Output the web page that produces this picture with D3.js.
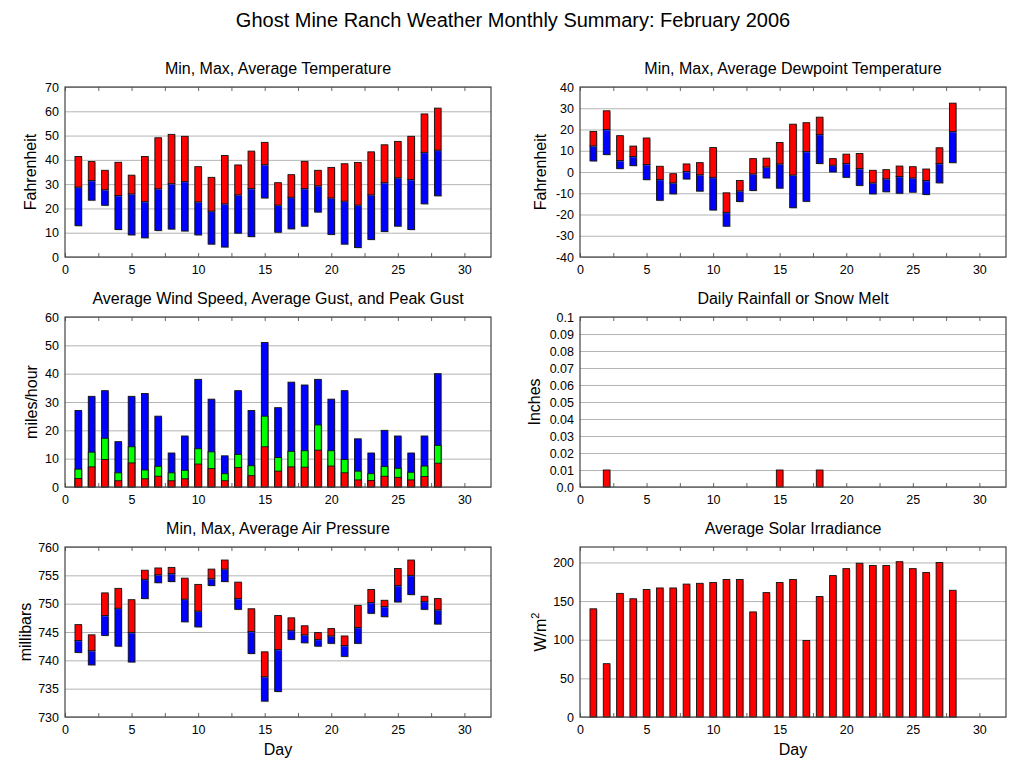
<!DOCTYPE html>
<html><head><meta charset="utf-8">
<script src="https://cdn.jsdelivr.net/npm/d3@7"></script>
<style>
body{margin:0;background:#fff;}
text{font-family:"Liberation Sans",Arial,Helvetica,sans-serif;fill:#000;}
</style>
</head><body>
<svg id="c" width="1027" height="772"></svg>
<script>
// ---------- DATA ----------
const days = d3.range(1, 29);
const xTicks = [0, 5, 10, 15, 20, 25, 30];

const tempMax = [41.4,39.3,35.7,39.0,33.7,41.4,49.1,50.5,49.7,37.2,32.8,41.8,37.9,43.6,47.2,30.6,33.9,39.4,35.7,36.9,38.4,38.9,43.3,46.2,47.6,49.7,58.9,61.3];
const tempAvg = [28.8,31.5,27.7,25.3,26.0,22.8,28.1,30.2,31.1,22.7,18.9,21.9,25.6,28.2,38.0,21.4,24.6,28.2,29.3,24.3,23.0,21.4,25.6,30.6,32.6,31.9,43.1,44.0];
const tempMin = [12.9,23.4,21.3,11.3,9.1,7.9,10.9,11.5,10.7,9.1,5.3,4.1,9.8,8.4,24.3,10.2,11.6,12.7,18.5,9.3,5.3,3.9,7.2,10.5,12.7,11.3,21.9,25.2];
const tempTicks = [0,10,20,30,40,50,60,70];

const dewMax = [19.1,28.8,17.1,12.2,16.0,2.7,-0.8,3.8,4.4,11.5,-9.8,-4.0,6.3,6.5,13.9,22.5,23.2,25.8,6.3,8.4,8.7,0.8,1.1,2.8,2.5,1.4,11.4,32.4];
const dewAvg = [12.3,20.0,5.4,7.3,3.5,-3.5,-5.1,0.2,-1.3,-2.5,-19.0,-8.9,-0.9,2.4,3.8,-1.4,9.6,17.7,3.2,4.0,1.6,-5.1,-3.2,-2.1,-2.8,-4.0,4.0,19.0];
const dewMin = [5.2,8.2,1.6,3.0,-3.6,-13.3,-10.3,-3.3,-9.0,-17.9,-25.5,-13.9,-8.7,-2.8,-7.6,-16.8,-13.8,4.0,0.0,-2.5,-6.3,-10.3,-9.3,-10.0,-9.5,-10.6,-5.1,4.4];
const dewTicks = [-40,-30,-20,-10,0,10,20,30,40];

const windAvg = [3.0,7.1,9.7,2.2,8.5,2.9,3.8,2.2,2.9,8.1,6.5,2.2,6.9,4.0,14.2,5.6,7.1,7.0,13.0,7.4,5.0,2.5,2.3,3.8,3.4,2.5,3.7,8.4];
const gustAvg = [6.3,12.3,17.2,5.0,14.2,6.0,7.3,5.0,5.9,13.5,12.4,4.7,11.5,7.5,25.0,10.4,12.6,12.8,21.9,12.8,9.7,5.6,4.7,7.2,6.6,5.2,7.4,14.7];
const gustPeak = [27,32,34,16,32,33,25,12,18,38,31,11,34,27,51,28,37,36,38,31,34,17,12,20,18,12,18,40];
const windTicks = [0,10,20,30,40,50,60];

const rain = [0,0.01,0,0,0,0,0,0,0,0,0,0,0,0,0.01,0,0,0.01,0,0,0,0,0,0,0,0,0,0];
const rainTicks = [0,0.01,0.02,0.03,0.04,0.05,0.06,0.07,0.08,0.09,0.1];
const rainLabels = ["0.0","0.01","0.02","0.03","0.04","0.05","0.06","0.07","0.08","0.09","0.1"];

const pressMax = [746.3,744.5,751.9,752.7,750.7,755.9,756.3,756.4,754.5,753.4,756.1,757.7,753.8,749.1,741.5,747.9,747.5,746.1,744.9,745.6,744.3,749.7,752.5,750.6,756.2,757.7,751.3,750.9];
const pressAvg = [743.5,741.7,747.9,749.2,744.9,754.3,755.1,755.3,750.8,748.7,754.4,756.1,750.9,745.1,737.1,741.9,745.3,744.5,743.7,744.3,742.6,745.8,750.2,749.5,753.2,755.0,750.4,748.9];
const pressMin = [741.4,739.2,744.4,742.5,739.7,750.9,753.7,753.9,746.8,745.9,753.2,753.9,749.0,741.2,732.8,734.5,743.7,743.1,742.5,743.0,740.7,743.0,748.3,747.7,750.3,751.6,749.0,746.4];
const pressTicks = [730,735,740,745,750,755,760];

const solar = [140,69,160,153,165,167,167,172,173,174,178,178,136,161,174,178,99,156,183,192,199,196,196,201,192,187,200,164];
const solarTicks = [0,50,100,150,200];

// ---------- DRAW ----------
const svg = d3.select("#c");
const W = 426, H = 170;
const RED = "#ff0000", BLUE = "#0000ff", GREEN = "#00ff00";
const TICKFONT = 12.5;

svg.append("text").attr("x", 513).attr("y", 27).attr("text-anchor", "middle")
  .attr("font-size", 20).text("Ghost Mine Ranch Weather Monthly Summary: February 2006");

function panel(o) {
  const g = svg.append("g").attr("transform", `translate(${o.left},${o.top})`);
  const x = d3.scaleLinear().domain([0, 32]).range([0, W]);
  const y = d3.scaleLinear().domain(o.domain).range([H, 0]);
  // grid
  const grid = g.append("g").call(d3.axisLeft(y).tickValues(o.ticks).tickSize(-W).tickFormat(""));
  grid.select(".domain").remove();
  grid.selectAll("line").attr("stroke", "#b4b4b4").attr("stroke-width", 1);
  // y labels
  const ya = g.append("g").call(d3.axisLeft(y).tickValues(o.ticks).tickSize(0).tickPadding(6)
    .tickFormat((d, i) => o.labels ? o.labels[i] : d));
  ya.select(".domain").remove();
  ya.selectAll("text").attr("font-size", TICKFONT).attr("font-family", '"Liberation Sans",Arial,sans-serif');
  // x ticks inward bottom and top
  const minor = d3.range(0, 32.01, 2.5);
  const xb = g.append("g").attr("transform", `translate(0,${H})`)
    .call(d3.axisTop(x).tickValues(minor).tickSize(4).tickFormat(""));
  xb.select(".domain").remove();
  xb.selectAll("line").attr("stroke", "#666");
  const xt = g.append("g").call(d3.axisBottom(x).tickValues(minor).tickSize(4).tickFormat(""));
  xt.select(".domain").remove();
  xt.selectAll("line").attr("stroke", "#666");
  const xl = g.append("g").attr("transform", `translate(0,${H})`)
    .call(d3.axisBottom(x).tickValues(xTicks).tickSize(0).tickPadding(8));
  xl.select(".domain").remove();
  xl.selectAll("text").attr("font-size", TICKFONT).attr("font-family", '"Liberation Sans",Arial,sans-serif');

  const bw = x(0.5) - x(0);
  const layer = g.append("g");
  function bars(lo, hi, color) {
    const data = days.map((d, i) => ({ d, lo: lo(i), hi: hi(i) })).filter(e => e.hi !== e.lo);
    layer.selectAll(null).data(data).enter().append("rect")
      .attr("x", e => x(e.d) - bw / 2 + 1).attr("y", e => y(Math.max(e.lo, e.hi)) + 1)
      .attr("width", bw).attr("height", e => Math.abs(y(e.lo) - y(e.hi)))
      .attr("fill", "#999").attr("opacity", 0.55);
    layer.selectAll(null).data(data).enter().append("rect")
      .attr("x", e => x(e.d) - bw / 2).attr("y", e => y(Math.max(e.lo, e.hi)))
      .attr("width", bw).attr("height", e => Math.abs(y(e.lo) - y(e.hi)))
      .attr("fill", color).attr("stroke", "#111").attr("stroke-width", 0.9);
  }
  o.draw(bars);
  // border
  g.append("rect").attr("width", W).attr("height", H).attr("fill", "none")
    .attr("stroke", "#444").attr("stroke-width", 1.2);
  // titles
  g.append("text").attr("x", W / 2).attr("y", -13).attr("text-anchor", "middle")
    .attr("font-size", 16).text(o.title);
  const yl = g.append("text").attr("transform", `translate(${o.ylx},${H / 2}) rotate(-90)`)
    .attr("text-anchor", "middle").attr("font-size", 16);
  if (o.ylabelSup) {
    yl.append("tspan").text(o.ylabel);
    yl.append("tspan").attr("font-size", 11).attr("dy", -7).text(o.ylabelSup);
  } else yl.text(o.ylabel);
  if (o.day) {
    g.append("text").attr("x", W / 2).attr("y", H + 38).attr("text-anchor", "middle")
      .attr("font-size", 16).text("Day");
  }
}

const L = 65, R = 580, T1 = 87, T2 = 317, T3 = 547;

panel({ left: L, top: T1, domain: [0, 70], ticks: tempTicks, title: "Min, Max, Average Temperature",
  ylabel: "Fahrenheit", ylx: -29,
  draw: b => { b(i => tempMin[i], i => tempAvg[i], BLUE); b(i => tempAvg[i], i => tempMax[i], RED); } });

panel({ left: R, top: T1, domain: [-40, 40], ticks: dewTicks, title: "Min, Max, Average Dewpoint Temperature",
  ylabel: "Fahrenheit", ylx: -34,
  draw: b => { b(i => dewMin[i], i => dewAvg[i], BLUE); b(i => dewAvg[i], i => dewMax[i], RED); } });

panel({ left: L, top: T2, domain: [0, 60], ticks: windTicks, title: "Average Wind Speed, Average Gust, and Peak Gust",
  ylabel: "miles/hour", ylx: -28,
  draw: b => { b(i => 0, i => gustPeak[i], BLUE); b(i => 0, i => gustAvg[i], GREEN); b(i => 0, i => windAvg[i], RED); } });

panel({ left: R, top: T2, domain: [0, 0.1], ticks: rainTicks, labels: rainLabels, title: "Daily Rainfall or Snow Melt",
  ylabel: "Inches", ylx: -40,
  draw: b => { b(i => 0, i => rain[i], RED); } });

panel({ left: L, top: T3, domain: [730, 760], ticks: pressTicks, title: "Min, Max, Average Air Pressure",
  ylabel: "millibars", ylx: -34, day: true,
  draw: b => { b(i => pressMin[i], i => pressAvg[i], BLUE); b(i => pressAvg[i], i => pressMax[i], RED); } });

panel({ left: R, top: T3, domain: [0, 220], ticks: solarTicks, title: "Average Solar Irradiance",
  ylabel: "W/m", ylabelSup: "2", ylx: -34, day: true,
  draw: b => { b(i => 0, i => solar[i], RED); } });
</script>
</body></html>
